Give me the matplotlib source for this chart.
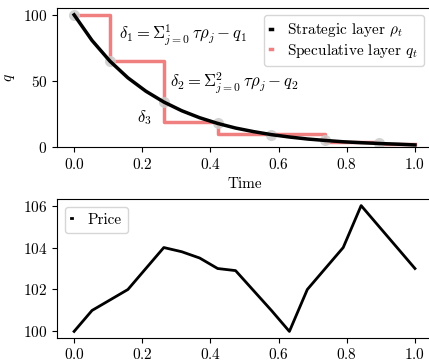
import numpy as np
import matplotlib
matplotlib.use('Agg')
import matplotlib.pyplot as plt

plt.rcParams['font.family'] = 'serif'
plt.rcParams['font.serif'] = ['cmr10']
plt.rcParams['mathtext.fontset'] = 'cm'
plt.rcParams['axes.formatter.use_mathtext'] = True
plt.rcParams['font.size'] = 11

# strategic layer (smooth decay)
t = [0.0, 0.0526, 0.1053, 0.1579, 0.2105, 0.2632, 0.3158, 0.3684, 0.4211, 0.4737,
     0.5263, 0.5789, 0.6316, 0.6842, 0.7368, 0.7895, 0.8421, 0.8947, 0.9474, 1.0]
rho = [100, 80.6, 64.9, 52.3, 42.2, 34.0, 27.4, 22.1, 17.8, 14.3,
       11.6, 9.3, 7.5, 6.0, 4.9, 3.9, 3.2, 2.6, 2.1, 1.5]

# speculative layer (steps)
t_step = [0.0, 0.1053, 0.2632, 0.4211, 0.7368, 0.8947, 1.0]
q_step = [100, 65, 19, 10, 4, 2.3, 2.3]

# grey markers where decisions are taken
t_dec = [0.0, 0.1053, 0.2632, 0.4211, 0.5789, 0.7368, 0.8947]
q_dec = [100, 64.9, 34.0, 17.8, 9.3, 4.9, 2.6]

# price path
t_price = [0.0, 0.0526, 0.1053, 0.1579, 0.2105, 0.2632, 0.3158, 0.3684, 0.4211, 0.4737,
           0.5263, 0.5789, 0.6316, 0.6842, 0.7368, 0.7895, 0.8421, 0.8947, 0.9474, 1.0]
price = [100, 101, 101.5, 102, 103, 104, 103.8, 103.5, 103.0, 102.9,
         101.95, 101.0, 100, 102, 103, 104, 106, 105, 104, 103]

fig = plt.figure(figsize=(4.29, 3.61), dpi=100)
ax1 = fig.add_axes([0.133, 0.593, 0.874, 0.386])
ax2 = fig.add_axes([0.133, 0.0645, 0.874, 0.3834])

# top panel
ax1.step(t_step, q_step, where='post', color='#f08080', lw=2.5, label=r'Speculative layer $q_t$', zorder=2)
ax1.plot(t_dec, q_dec, 'o', color='#cccccc', alpha=0.85, markersize=8, markeredgewidth=0, zorder=2.5)
ax1.plot(t, rho, color='black', lw=2.5, label=r'Strategic layer $\rho_t$', zorder=3)

ax1.text(0.132, 85, r'$\delta_1 = \Sigma_{j=0}^1 \,\tau\rho_j - q_1$', va='center', fontsize=12)
ax1.text(0.28, 48.6, r'$\delta_2 = \Sigma_{j=0}^2 \,\tau\rho_j - q_2$', va='center', fontsize=12)
ax1.text(0.185, 22, r'$\delta_3$', va='center', fontsize=12)

ax1.set_xlim(-0.05, 1.05)
ax1.set_ylim(0, 105.5)
ax1.set_yticks([0, 50, 100])
ax1.set_xlabel('Time')
ax1.set_ylabel('$q$')
h, l = ax1.get_legend_handles_labels()
ax1.legend(h[::-1], l[::-1], loc='upper right', handlelength=0.1, handletextpad=1.0,
           labelspacing=0.15)

# bottom panel
ax2.plot(t_price, price, color='black', lw=2, label='Price')
ax2.set_xlim(-0.05, 1.05)
ax2.set_yticks([100, 102, 104, 106])
ax2.legend(loc='upper left', handlelength=0.1, handletextpad=1.0)

plt.savefig('out.png', dpi=100)
